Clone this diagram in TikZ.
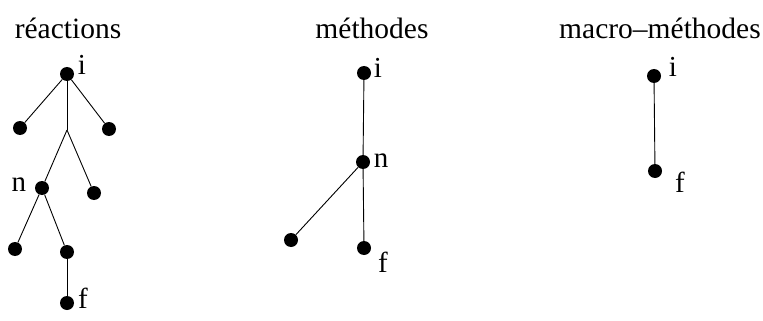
\documentclass[tikz,border=0pt]{standalone}
\usepackage{fontspec}
\setmainfont{Liberation Serif}
\begin{document}
\begin{tikzpicture}[x=1pt,y=-1pt,
  dot/.style={circle,fill=black,inner sep=0pt,minimum size=14pt},
  lbl/.style={inner sep=0pt,font=\fontsize{29}{31}\selectfont},
  ttl/.style={inner sep=0pt,font=\fontsize{29.5}{32}\selectfont},
  edge/.style={line width=0.9pt}]
\useasboundingbox (0,0) rectangle (763,321);
% titles
\node[ttl] (t1) at (68,28) {réactions};
\node[ttl] (t2) at (372,28) {méthodes};
\node[ttl] (t3) at (660,28) {macro–méthodes};
% reactions tree
\node[dot] (ri) at (67,74) {};
\node[dot] (rl) at (20,128) {};
\node[dot] (rr) at (109,129) {};
\coordinate (rj) at (67,130);
\node[dot] (rn) at (42,188) {};
\node[dot] (rm) at (94,193) {};
\node[dot] (rnl) at (15,249) {};
\node[dot] (rnr) at (67,252) {};
\node[dot] (rf) at (67,303) {};
\node[lbl] (rli) at (82,65) {i};
\node[lbl] (rln) at (19,185) {n};
\node[lbl] (rlf) at (83,298) {f};
\draw[edge] (ri) -- (rl);
\draw[edge] (ri) -- (rr);
\draw[edge] (ri) -- (rj);
\draw[edge] (rj) -- (rn);
\draw[edge] (rj) -- (rm);
\draw[edge] (rn) -- (rnl);
\draw[edge] (rn) -- (rnr);
\draw[edge] (rnr) -- (rf);
% methodes tree
\node[dot] (mi) at (364,73) {};
\node[dot] (mn) at (363,162) {};
\node[dot] (ml) at (291,240) {};
\node[dot] (mf) at (364,248) {};
\node[lbl] (mli) at (378,68) {i};
\node[lbl] (mln) at (381,161) {n};
\node[lbl] (mlf) at (383,262) {f};
\draw[edge] (mi) -- (mn);
\draw[edge] (mn) -- (ml);
\draw[edge] (mn) -- (mf);
% macro-methodes
\node[dot] (ai) at (654,76) {};
\node[dot] (af) at (655,171) {};
\node[lbl] (ali) at (673,67) {i};
\node[lbl] (alf) at (680,182) {f};
\draw[edge] (ai) -- (af);
\end{tikzpicture}
\end{document}
